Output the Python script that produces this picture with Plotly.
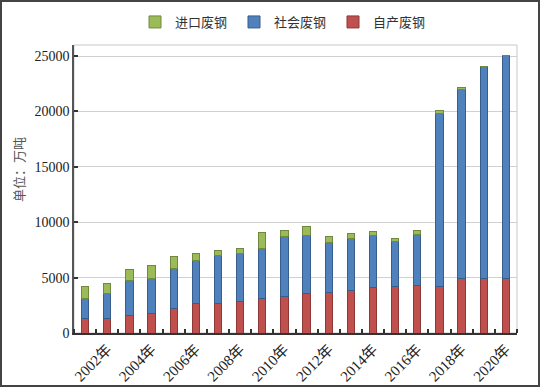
import plotly.graph_objects as go

years = list(range(2001, 2021))
tick_years = list(range(2002, 2021, 2))
tick_labels = [f"{y}年" for y in tick_years]

own_scrap = [1300, 1300, 1570, 1720, 2240, 2690, 2690, 2810, 3080, 3260,
             3590, 3650, 3840, 4080, 4170, 4320, 4230, 4950, 4950, 4950]
social_scrap = [1840, 2290, 3140, 3230, 3590, 3830, 4350, 4380, 4590, 5410,
                5230, 4500, 4650, 4680, 4080, 4590, 15580, 17000, 19130, 20130]
import_scrap = [1090, 850, 1030, 1120, 1120, 640, 420, 480, 1420, 600,
                810, 580, 480, 360, 300, 300, 240, 170, 20, 0]

names = ["自产废钢", "社会废钢", "进口废钢"]
colors = ["#C0504D", "#4F81BD", "#9BBB59"]
edges = ["#8C3836", "#385D8A", "#71893F"]

W, H = 540, 387
ml, mr, mt, mb = 74, 23, 45, 54
pw, ph = W - ml - mr, H - mt - mb

fig = go.Figure()
for name, vals, c, e in zip(names, [own_scrap, social_scrap, import_scrap], colors, edges):
    fig.add_trace(go.Bar(x=years, y=vals, name=name, width=0.33,
                         marker=dict(color=c, line=dict(color=e, width=1))))

font_fam = "Liberation Serif, Noto Sans CJK SC, serif"

fig.update_layout(
    width=W, height=H,
    margin=dict(l=ml, r=mr, t=mt, b=mb, autoexpand=False),
    barmode="stack",
    plot_bgcolor="white", paper_bgcolor="white",
    font=dict(family=font_fam, size=13, color="#333"),
    legend=dict(orientation="h", x=0.525, xref="container", xanchor="center",
                y=1 - 22 / H, yref="container", yanchor="middle",
                traceorder="reversed", itemwidth=30, entrywidth=54,
                font=dict(size=13, color="#333", family="Noto Sans CJK SC, serif")),
    showlegend=True,
)
fig.update_xaxes(range=[2000.5, 2020.5], tickmode="array", tickvals=tick_years,
                 ticktext=tick_labels, tickangle=-45, ticks="",
                 showline=True, linecolor="#333", linewidth=1.5, showgrid=False,
                 zeroline=False,
                 tickfont=dict(size=15, family=font_fam, color="#222"),
                 minor=dict(tickmode="linear", tick0=2000.5, dtick=1, ticks="inside",
                            ticklen=4, tickcolor="#333", tickwidth=1.5, showgrid=False))
fig.update_yaxes(range=[0, 26000], tickmode="linear", tick0=0, dtick=5000,
                 tickformat="d",
                 ticks="inside", ticklen=4, tickcolor="#333", tickwidth=1.5,
                 showline=True, linecolor="#555", linewidth=1.5,
                 showgrid=True, gridcolor="#D0D0D0", gridwidth=1, zeroline=False,
                 tickfont=dict(size=14, family=font_fam, color="#222"))

# plot area frame (light gray)
fig.add_shape(type="rect", xref="paper", yref="paper", x0=0, x1=1, y0=0, y1=1,
              line=dict(color="#C8C8C8", width=1), layer="below")
# outer picture border
fig.add_shape(type="rect", xref="paper", yref="paper",
              x0=(1 - ml) / pw, x1=(W - 1 - ml) / pw,
              y0=-(mb - 1) / ph, y1=1 + (mt - 1) / ph,
              line=dict(color="#444", width=2))

fig.add_annotation(text="单位：万吨", xref="paper", yref="paper",
                   x=(18 - ml) / pw, y=1 - (170 - mt) / ph, textangle=-90,
                   showarrow=False, xanchor="center", yanchor="middle",
                   font=dict(size=13, color="#555", family="Noto Sans CJK SC, serif"))

fig.write_html("out.html", config={"displayModeBar": False},
               post_script="document.body.style.margin='0';document.body.style.padding='0';")
